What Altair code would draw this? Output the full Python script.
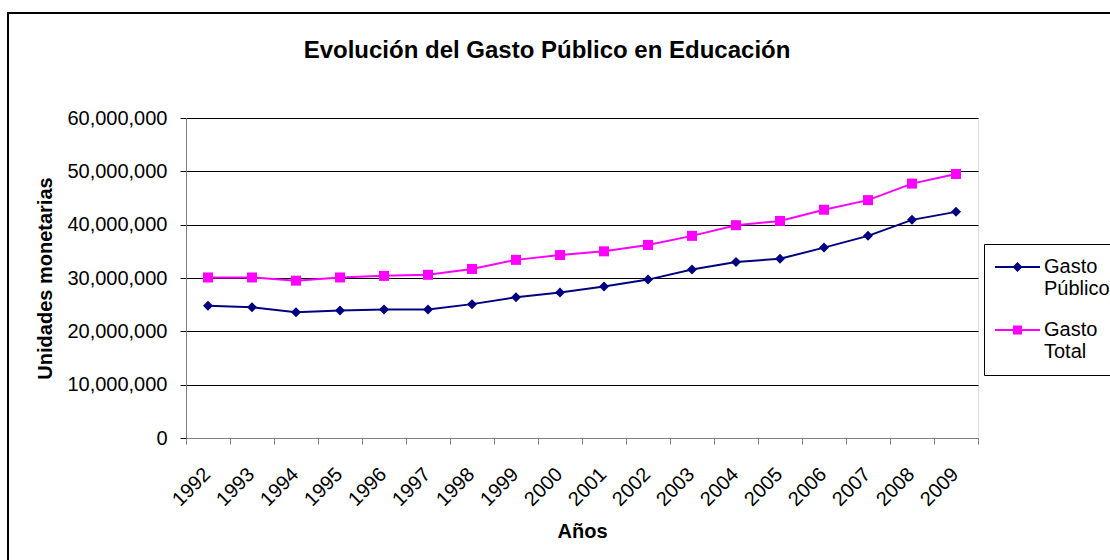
import altair as alt
import pandas as pd

# Serie anual 1992-2009 (unidades monetarias)
anios = list(range(1992, 2010))
gasto_publico = [
    24_800_000, 24_500_000, 23_600_000, 23_900_000, 24_100_000, 24_100_000,
    25_100_000, 26_400_000, 27_300_000, 28_400_000, 29_700_000, 31_600_000,
    33_000_000, 33_600_000, 35_700_000, 37_900_000, 40_900_000, 42_400_000,
]
gasto_total = [
    30_100_000, 30_100_000, 29_500_000, 30_100_000, 30_400_000, 30_600_000,
    31_700_000, 33_400_000, 34_300_000, 35_000_000, 36_200_000, 37_900_000,
    39_900_000, 40_700_000, 42_800_000, 44_600_000, 47_700_000, 49_500_000,
]
series = ["Gasto Público", "Gasto Total"]
colores = ["#000080", "#FF00FF"]
marcadores = ["diamond", "square"]
# símbolo de leyenda: trazo horizontal con el marcador encima
simbolos_leyenda = [
    "M-4.5,-0.2H4.5V0.2H-4.5Z M-1,0L0,-1L1,0L0,1Z",
    "M-4.5,-0.2H4.5V0.2H-4.5Z M-0.9,-0.9H0.9V0.9H-0.9Z",
]
ticks_y = [0, 10_000_000, 20_000_000, 30_000_000, 40_000_000, 50_000_000, 60_000_000]

df = pd.DataFrame(
    {
        "anio": anios * 2,
        "valor": gasto_publico + gasto_total,
        "serie": [series[0]] * len(anios) + [series[1]] * len(anios),
    }
)

FUENTE = "Liberation Sans"
ANCHO, ALTO = 792, 320

eje_x = alt.X(
    "anio:Q",
    scale=alt.Scale(domain=[1991.5, 2009.5], nice=False, zero=False),
    axis=alt.Axis(
        values=[a - 0.5 for a in anios] + [2009.5],
        labelExpr="datum.value < 2009 ? toString(datum.value + 0.5) : ''",
        labelAngle=315,
        labelAlign="right",
        labelBaseline="middle",
        labelOffset=21,
        labelPadding=27,
        labelFont=FUENTE,
        labelFontSize=20,
        labelColor="black",
        labelOverlap=False,
        labelFlush=False,
        labelBound=False,
        tickSize=6,
        tickColor="#808080",
        domainColor="#808080",
        grid=False,
        title="Años",
        titleFont=FUENTE,
        titleFontSize=20,
        titleFontWeight="bold",
        titleColor="black",
        titleX=ANCHO / 2,
        titleY=93,
        titleAlign="center",
        titleBaseline="middle",
    ),
)

eje_y = alt.Y(
    "valor:Q",
    scale=alt.Scale(domain=[0, 60_000_000], nice=False),
    axis=alt.Axis(
        values=ticks_y,
        format=",d",
        labelFont=FUENTE,
        labelFontSize=20,
        labelColor="black",
        labelPadding=13,
        tickSize=6,
        tickColor="black",
        domainColor="#808080",
        grid=True,
        gridColor="black",
        gridWidth=1,
        title="Unidades monetarias",
        titleFont=FUENTE,
        titleFontSize=20,
        titleFontWeight="bold",
        titleColor="black",
        titleAngle=270,
        titleX=-141,
        titleY=ALTO / 2,
        titleAlign="center",
        titleBaseline="middle",
    ),
)

color_sin_leyenda = alt.Color(
    "serie:N", scale=alt.Scale(domain=series, range=colores), legend=None
)

lineas = alt.Chart().mark_line(strokeWidth=2).encode(
    x=eje_x, y=eje_y, color=color_sin_leyenda
)

puntos = alt.Chart().mark_point(filled=True, opacity=1, size=100).encode(
    x=eje_x,
    y=eje_y,
    color=color_sin_leyenda,
    shape=alt.Shape(
        "serie:N", scale=alt.Scale(domain=series, range=marcadores), legend=None
    ),
)

leyenda = (
    alt.Chart()
    .mark_point(filled=True, opacity=1, size=100)
    .transform_filter("false")
    .encode(
        color=alt.Color(
            "serie:N",
            scale=alt.Scale(domain=series, range=colores),
            legend=alt.Legend(
                title=None,
                orient="none",
                legendX=798,
                legendY=126,
                padding=13,
                rowPadding=21,
                strokeColor="black",
                fillColor="white",
                symbolSize=100,
                symbolOffset=10.5,
                symbolStrokeWidth=0,
                labelOffset=16.5,
                labelFont=FUENTE,
                labelFontSize=20,
                labelColor="black",
                labelBaseline="middle",
                labelExpr="split(datum.label, ' ')",
            ),
        ),
        shape=alt.Shape(
            "serie:N",
            scale=alt.Scale(domain=series, range=simbolos_leyenda),
            legend=alt.Legend(title=None),
        ),
    )
)

# marco exterior del gráfico
marco = (
    alt.Chart(alt.Data(values=[{}]))
    .mark_rect(fillOpacity=0, stroke="black", strokeWidth=2)
    .encode(
        x=alt.value(-178),
        x2=alt.value(950),
        y=alt.value(-105),
        y2=alt.value(460),
    )
)

chart = (
    alt.layer(marco, lineas, puntos, leyenda, data=df)
    .resolve_scale(color="independent", shape="independent")
    .properties(
        width=ANCHO,
        height=ALTO,
        autosize=alt.AutoSizeParams(type="none"),
        padding={"left": 186, "top": 118, "right": 132, "bottom": 122},
        title=alt.TitleParams(
            text="Evolución del Gasto Público en Educación",
            font=FUENTE,
            fontSize=24,
            fontWeight="bold",
            color="black",
            anchor="middle",
            frame="group",
            dx=-35,
            offset=-70,
            baseline="alphabetic",
        ),
    )
    .configure_view(stroke=None)
    .configure(background="white")
)

chart.save("out.html", embed_options={"renderer": "svg", "actions": False})
